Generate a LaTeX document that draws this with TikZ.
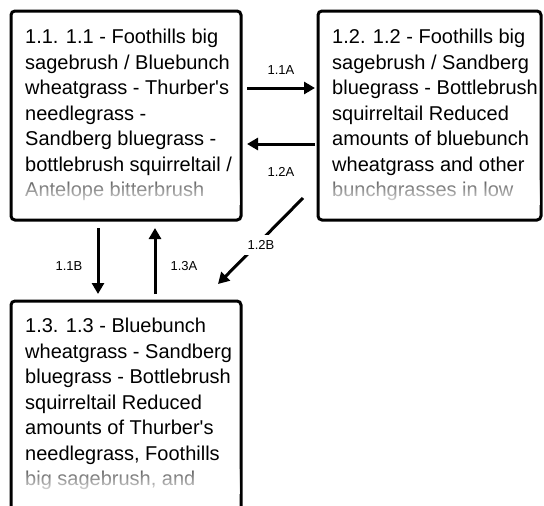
\documentclass[tikz,border=0pt]{standalone}
\usepackage{fontspec}
\setmainfont{Liberation Sans}
\usetikzlibrary{arrows.meta,calc,fadings}
\tikzfading[name=lastline, top color=transparent!65, bottom color=transparent!6]
\begin{document}
\begin{tikzpicture}[x=1pt,y=-1pt,
  box/.style={draw=black, line width=3pt, rounded corners=4pt, fill=white, inner sep=0pt, outer sep=0pt},
  txt/.style={anchor=north west, inner sep=0pt, align=left, font=\fontsize{20}{25.5}\selectfont},
  fadebox/.style={fill=white, path fading=lastline},
  arr/.style={line width=3pt, -{Triangle[length=11pt,width=12pt]}},
  lbl/.style={font=\fontsize{13}{15}\selectfont, inner sep=1pt}]
\useasboundingbox (0,0) rectangle (544,506);
\clip (0,0) rectangle (544,506);
% boxes
\node[box, minimum width=230pt, minimum height=209pt] (b1) at (126,115.5) {};
\node[box, minimum width=223pt, minimum height=209pt] (b2) at (429.5,115.5) {};
\node[box, minimum width=230pt, minimum height=269pt] (b3) at (126,435.5) {};
% texts
\node[txt] (t1) at (25,29.2) {1.1. 1.1 - Foothills big\\sagebrush / Bluebunch\\wheatgrass - Thurber\textquotesingle s\\needlegrass -\\Sandberg bluegrass -\\bottlebrush squirreltail /\\Antelope bitterbrush};
\node[txt] (t2) at (332,29.2) {1.2. 1.2 - Foothills big\\sagebrush / Sandberg\\bluegrass - Bottlebrush\\squirreltail Reduced\\amounts of bluebunch\\wheatgrass and other\\bunchgrasses in low};
\node[txt] (t3) at (25,318.2) {1.3. 1.3 - Bluebunch\\wheatgrass - Sandberg\\bluegrass - Bottlebrush\\squirreltail Reduced\\amounts of Thurber\textquotesingle s\\needlegrass, Foothills\\big sagebrush, and};
% fading of the last visible lines
\fill[fadebox] (12.5,180) rectangle (239.5,205);
\fill[fadebox] (319.5,180) rectangle (539.5,205);
\fill[fadebox] (12.5,469) rectangle (239.5,494);
% connectors
\draw[arr] ($(b1.east)+(6,-27.5)$) -- ($(b2.west)+(-3,-27.5)$);
\draw[arr] ($(b2.west)+(-3,28.5)$) -- ($(b1.east)+(6,28.5)$);
\draw[arr] ($(b1.south)+(-28,8)$) -- ($(b3.north)+(-28,-7)$);
\draw[arr] ($(b3.north)+(29,-7)$) -- ($(b1.south)+(29,8)$);
\draw[arr] ($(b2.south west)+(-15,-22)$) -- ($(b3.north east)+(-23,-17)$);
% labels
\node[lbl] (l11a) at (281,70) {1.1A};
\node[lbl] (l12a) at (281,172) {1.2A};
\node[lbl] (l11b) at (69,266) {1.1B};
\node[lbl] (l13a) at (184,266) {1.3A};
\node[lbl, fill=white, inner sep=5pt] (l12b) at (261,245) {1.2B};
\end{tikzpicture}
\end{document}
